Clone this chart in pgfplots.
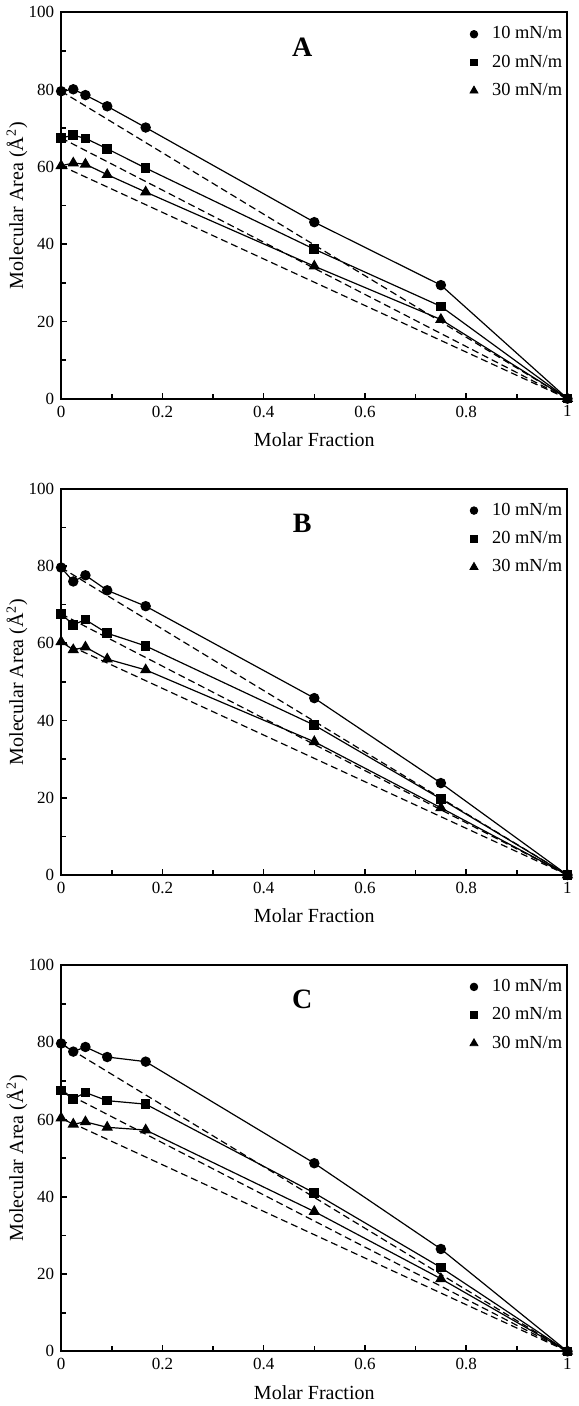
\documentclass[border=0pt]{standalone}
\usepackage{fontspec}
\setmainfont{Liberation Serif}
\usepackage{pgfplots}
\usepackage{pgfplotstable}
\pgfplotsset{compat=1.18}

\pgfplotstableread{
x c10 c20 c30
0 79.6 67.5 60.3
0.024 80.1 68.2 61.0
0.048 78.6 67.4 60.7
0.091 75.7 64.7 58.0
0.167 70.2 59.7 53.5
0.5 45.7 38.7 34.3
0.75 29.4 23.9 20.5
1 0 0 0
}\dataA
\pgfplotstableread{
x c10 c20 c30
0 79.6 67.6 60.4
0.024 76.0 64.8 58.3
0.048 77.6 66.1 59.0
0.091 73.7 62.6 55.9
0.167 69.6 59.3 53.1
0.5 45.8 38.8 34.5
0.75 23.8 19.7 17.4
1 0 0 0
}\dataB
\pgfplotstableread{
x c10 c20 c30
0 79.7 67.5 60.4
0.024 77.6 65.4 58.8
0.048 78.8 67.0 59.4
0.091 76.2 64.9 58.0
0.167 75.0 64.0 57.3
0.5 48.7 41.0 36.2
0.75 26.5 21.7 18.8
1 0 0 0
}\dataC

\pgfplotsset{
 panel/.style={
  scale only axis, width=253pt, height=193pt,
  xmin=0, xmax=1, ymin=0, ymax=100,
  xtick={0,0.2,0.4,0.6,0.8,1}, ytick={0,20,40,60,80,100},
  minor x tick num=1, minor y tick num=1,
  tick align=inside, xtick pos=left, ytick pos=left,
  major tick length=3pt, minor tick length=2.5pt,
  axis line style={line width=1pt},
  every tick/.style={black, line width=0.8pt},
  tick label style={font=\fontsize{8.5}{10}\selectfont},
  /pgf/number format/assume math mode=true,
  label style={font=\fontsize{10}{12}\selectfont},
  xlabel={Molar Fraction},
  ylabel={Molecular Area (Å\textsuperscript{2})},
  x label style={at={(axis description cs:0.5,-0.106)}, anchor=center},
  y label style={at={(axis description cs:-0.087,0.5)}, anchor=center},
  legend style={draw=none, fill=none, at={(1.01,0.985)}, anchor=north east,
    font=\fontsize{9.2}{11}\selectfont, row sep=2.5pt},
  legend cell align=left,
  legend image code/.code={\path (0cm,0cm) (0.36cm,0cm); \draw[##1, only marks] plot coordinates {(0.12cm,0cm)};},
 },
 s10/.style={black, line width=0.6pt, mark=*, mark size=2.3pt, mark options={solid}},
 s20/.style={black, line width=0.6pt, mark=square*, mark size=2.1pt, mark options={solid}},
 s30/.style={black, line width=0.6pt, mark=triangle*, mark size=2.7pt, mark options={solid}},
 ideal/.style={black, line width=0.6pt, dash pattern=on 3.5pt off 2pt, forget plot},
}

\newcommand{\panel}[2]{%
  \addlegendimage{mark=*, mark size=1.9pt, black}
  \addlegendentry{10 mN/m}
  \addlegendimage{mark=square*, mark size=1.7pt, black}
  \addlegendentry{20 mN/m}
  \addlegendimage{mark=triangle*, mark size=2.3pt, black}
  \addlegendentry{30 mN/m}
  \addplot[s10, forget plot] table[x=x, y=c10] {#1};
  \addplot[s20, forget plot] table[x=x, y=c20] {#1};
  \addplot[s30, forget plot] table[x=x, y=c30] {#1};
  \node[font=\fontsize{14}{16}\selectfont\bfseries] at (axis cs:0.476,91) {#2};
}

\begin{document}
\begin{tikzpicture}
\begin{axis}[panel, at={(0,0)}]
\panel{\dataA}{A}
\addplot[ideal] coordinates {(0,79.6) (1,0)};
\addplot[ideal] coordinates {(0,67.5) (1,0)};
\addplot[ideal] coordinates {(0,60.3) (1,0)};
\end{axis}
\begin{axis}[panel, at={(0,-238pt)}]
\panel{\dataB}{B}
\addplot[ideal] coordinates {(0,79.6) (1,0)};
\addplot[ideal] coordinates {(0,67.6) (1,0)};
\addplot[ideal] coordinates {(0,60.4) (1,0)};
\end{axis}
\begin{axis}[panel, at={(0,-476pt)}]
\panel{\dataC}{C}
\addplot[ideal] coordinates {(0,79.7) (1,0)};
\addplot[ideal] coordinates {(0,67.5) (1,0)};
\addplot[ideal] coordinates {(0,60.4) (1,0)};
\end{axis}
\end{tikzpicture}
\end{document}
